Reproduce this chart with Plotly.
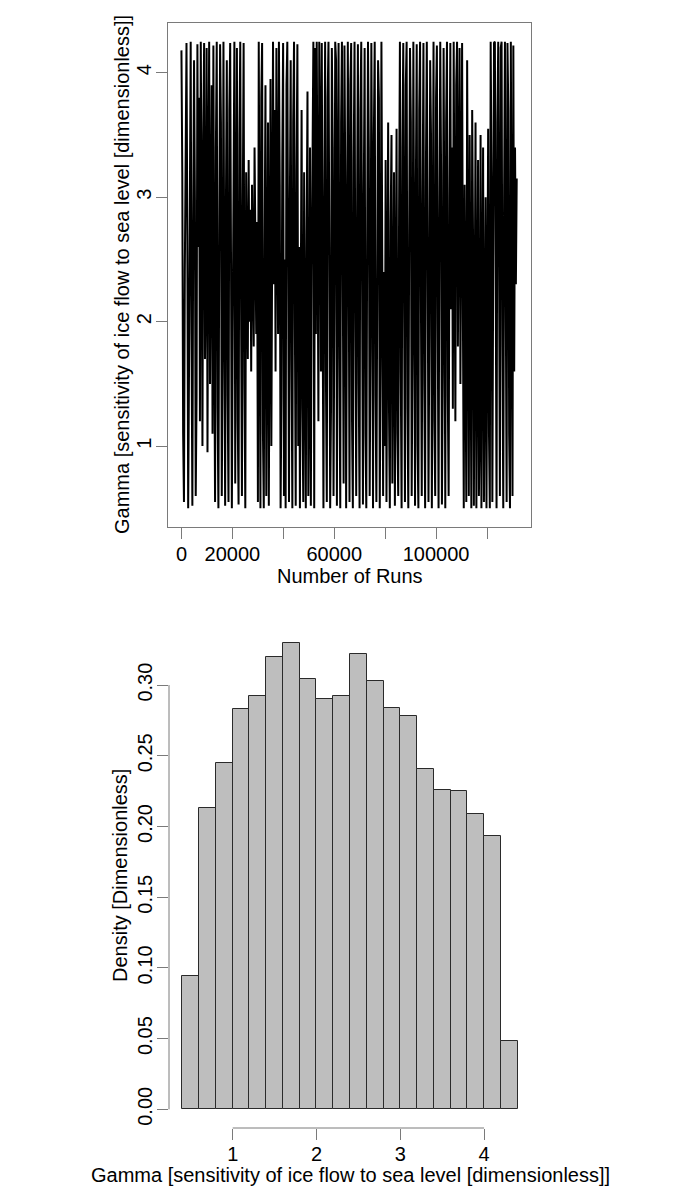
import plotly.graph_objects as go

# ---------------- data ----------------
# MCMC trace of Gamma (thinned samples)
gamma_trace = [
    4.18, 3.2, 1.1, 0.55, 2.4, 3.9, 4.24, 2.7, 0.5, 1.6, 3.3, 4.25, 1.9, 0.52, 2.8, 4.1, 3.0, 0.6, 1.4, 4.23,
    2.6, 3.8, 1.2, 4.25, 2.9, 1.0, 3.5, 4.24, 1.7, 2.3, 4.2, 0.95, 3.1, 4.25, 1.5, 2.8, 3.9, 1.1, 4.22, 2.0,
    0.55, 3.4, 4.25, 1.3, 0.5, 2.7, 4.23, 3.6, 0.6, 1.8, 4.25, 2.2, 0.52, 3.0, 4.1, 1.4, 0.55, 3.7, 4.24, 2.5,
    0.5, 1.9, 3.3, 4.25, 0.7, 2.6, 4.2, 1.2, 0.53, 3.5, 4.25, 2.1, 0.6, 2.9, 4.24, 1.5, 0.5, 3.2,
    2.4, 1.7, 3.3, 2.0, 2.9, 1.6, 3.1, 2.2, 1.8, 3.4, 2.5, 1.9, 2.8,
    0.55, 4.25, 1.3, 0.5, 3.8, 4.24,
    1.1, 0.5, 2.6, 3.9, 0.6, 2.2, 3.6, 0.52, 1.8, 3.95, 1.0, 2.9,
    4.25, 2.3, 3.7, 1.6, 4.2, 2.8, 1.9, 4.25, 3.1,
    0.5, 1.4, 3.3, 4.24, 0.6, 2.5, 0.5, 3.9, 4.25, 1.2, 0.55, 2.9, 4.1, 1.7, 0.5, 3.6, 4.25, 2.0, 0.52, 3.2,
    4.23, 1.0, 2.6,
    0.5, 2.1, 3.7, 1.3, 0.55, 3.2, 1.8, 0.5, 2.7, 3.85, 0.6, 1.5, 3.4, 0.52, 2.4, 3.6,
    4.25, 0.5, 4.2, 1.9, 4.25,
    2.8, 1.2, 4.25, 3.5, 1.6, 4.24,
    2.2, 0.5, 3.0, 4.25, 1.5, 0.55, 3.8, 4.25, 2.6, 0.5, 1.3, 4.2, 3.4, 0.6, 2.1, 4.25, 4.1, 0.52, 2.9, 4.24,
    1.7, 0.5, 3.6, 4.25, 2.4, 0.7, 4.22, 3.1, 0.5, 1.9, 4.25, 2.7, 0.55, 3.9, 4.24, 1.2, 0.5, 3.3, 4.25, 2.0,
    0.6, 2.8, 4.23, 1.5, 0.5, 3.7, 4.25, 2.3, 0.53, 3.0, 4.2, 1.1, 0.5, 2.6, 4.25, 3.4, 0.6, 1.8, 4.24, 2.9,
    0.5, 3.5, 4.25, 1.4, 0.55, 2.2, 4.1, 3.8, 0.5, 1.7, 4.25, 2.5, 0.6,
    2.4, 1.0, 3.3, 0.55, 2.0, 3.6, 1.3, 0.5, 2.8, 3.5, 0.7, 1.9, 3.2, 0.52, 2.5, 3.55, 1.1, 0.6, 2.9,
    4.25, 1.6, 0.5, 3.4, 4.24, 2.1, 0.55, 3.9, 4.25, 1.3, 0.5, 2.7, 4.2, 3.6, 0.6, 1.8, 4.25, 2.4, 0.52, 3.1,
    4.23, 1.0, 0.5, 3.7, 4.25, 2.2, 0.6, 2.9, 4.24, 1.5, 0.5, 3.3, 4.25, 2.6, 0.55, 1.9, 4.1, 3.5, 0.5, 2.3,
    4.25, 1.2, 0.6, 3.8, 4.22, 2.0, 0.5, 2.8, 4.25, 3.2, 0.53, 1.6, 4.2, 2.5, 0.5, 3.6, 4.25, 1.4, 0.6, 3.0,
    4.24, 2.1,
    3.4, 1.3, 4.25, 2.6, 1.2, 3.9, 4.25, 1.8, 2.9, 4.2, 1.5, 3.3, 4.24,
    2.0, 0.5, 3.1, 1.4, 0.55, 4.1, 2.3, 0.6, 3.5, 1.0, 0.5, 3.7, 2.7, 0.52, 1.6, 3.6, 0.5, 2.4, 3.3, 0.6,
    1.2, 3.5, 0.5, 2.1, 3.4, 0.55, 1.8, 3.0, 0.5, 2.6, 3.55, 1.1,
    0.5, 4.25, 3.2, 0.55, 2.0, 4.24, 4.25, 1.4, 0.5, 3.6, 4.25, 2.5, 0.6, 4.2, 4.25, 1.8, 0.5, 3.0, 4.25, 2.2,
    0.55, 4.24, 3.7, 1.1, 0.5, 4.25, 2.8, 0.6, 4.22, 1.6, 3.4, 2.3, 3.15,
]
runs_per_sample = 330  # thinning interval between stored samples
total_runs = 132000

trace_xticks = [0, 20000, 40000, 60000, 80000, 100000, 120000]
trace_xticklabels = ["0", "20000", "", "60000", "", "100000", ""]
trace_yticks = [1, 2, 3, 4]

# histogram of Gamma (density per bin)
bin_edges = [0.4, 0.6, 0.8, 1.0, 1.2, 1.4, 1.6, 1.8, 2.0, 2.2, 2.4,
             2.6, 2.8, 3.0, 3.2, 3.4, 3.6, 3.8, 4.0, 4.2, 4.4]
density = [0.094, 0.213, 0.245, 0.283, 0.292, 0.320, 0.330, 0.304, 0.290, 0.292,
           0.322, 0.303, 0.284, 0.278, 0.241, 0.226, 0.225, 0.209, 0.193, 0.048]
hist_xticks = [1, 2, 3, 4]
hist_yticks = [0.00, 0.05, 0.10, 0.15, 0.20, 0.25, 0.30]
hist_yticklabels = ["0.00", "0.05", "0.10", "0.15", "0.20", "0.25", "0.30"]

xtitle_top = "Number of Runs"
ytitle_top = "Gamma [sensitivity of ice flow to sea level [dimensionless]]"
xtitle_bot = "Gamma [sensitivity of ice flow to sea level [dimensionless]]"
ytitle_bot = "Density [Dimensionless]"

# ---------------- figure ----------------
W, H = 700, 1200
FONT = "Liberation Sans, Arial, Helvetica, sans-serif"
FS = 20
AXC = "#7a7a7a"

def px_x(p):
    return p / W

def px_y(p):
    return 1 - p / H

runs = [i * runs_per_sample for i in range(len(gamma_trace))]
centers = [(bin_edges[i] + bin_edges[i + 1]) / 2 for i in range(len(density))]
widths = [bin_edges[i + 1] - bin_edges[i] for i in range(len(density))]

fig = go.Figure()
fig.add_trace(go.Scatter(x=runs, y=gamma_trace, mode="lines",
                         line=dict(color="black", width=2),
                         xaxis="x", yaxis="y", showlegend=False, hoverinfo="skip"))
fig.add_trace(go.Bar(x=centers, y=density, width=widths,
                     marker=dict(color="#bebebe", line=dict(color="#2a2a2a", width=1)),
                     xaxis="x2", yaxis="y2", showlegend=False))

# R-style 4% padding
tx0, tx1 = 0, total_runs
tpad = 0.04 * (tx1 - tx0)
ty0, ty1 = min(gamma_trace), max(gamma_trace)
typad = 0.04 * (ty1 - ty0)
hx0, hx1 = bin_edges[0], bin_edges[-1]
hxpad = 0.04 * (hx1 - hx0)
hy1 = max(density)
hypad = 0.04 * hy1

tickfont = dict(family=FONT, size=FS, color="black")

fig.update_layout(
    width=W, height=H,
    margin=dict(l=0, r=0, t=0, b=0),
    paper_bgcolor="white", plot_bgcolor="white",
    font=dict(family=FONT, size=FS, color="black"),
    bargap=0,
    xaxis=dict(domain=[px_x(168), px_x(531)], anchor="y",
               range=[tx0 - tpad, tx1 + tpad],
               showline=True, mirror=True, linecolor=AXC, linewidth=1,
               ticks="outside", ticklen=11, tickcolor=AXC, tickwidth=1,
               tickvals=trace_xticks, ticktext=trace_xticklabels,
               tickfont=tickfont, showgrid=False, zeroline=False,
               ticklabelstandoff=-2),
    yaxis=dict(domain=[px_y(527), px_y(23)], anchor="x",
               range=[ty0 - typad, ty1 + typad],
               showline=True, mirror=True, linecolor=AXC, linewidth=1,
               ticks="outside", ticklen=11, tickcolor=AXC, tickwidth=1,
               tickvals=trace_yticks, tickangle=-90,
               tickfont=tickfont, showgrid=False, zeroline=False,
               ticklabelstandoff=-3),
    xaxis2=dict(domain=[px_x(169), px_x(531)], anchor="y2",
                range=[hx0 - hxpad, hx1 + hxpad],
                showline=False, ticks="outside", ticklen=11, tickcolor=AXC, tickwidth=1,
                tickvals=hist_xticks, tickfont=tickfont,
                showgrid=False, zeroline=False, ticklabelstandoff=-3),
    yaxis2=dict(domain=[px_y(1128), px_y(624)], anchor="x2",
                range=[-hypad, hy1 + hypad],
                showline=False, ticks="outside", ticklen=11, tickcolor=AXC, tickwidth=1,
                tickvals=hist_yticks, ticktext=hist_yticklabels, tickangle=-90,
                tickfont=tickfont, showgrid=False, zeroline=False,
                ticklabelstandoff=-3),
    shapes=[
        dict(type="line", xref="x2 domain", yref="y2", x0=0, x1=0,
             y0=hist_yticks[0], y1=hist_yticks[-1], line=dict(color=AXC, width=1)),
        dict(type="line", xref="x2", yref="y2 domain", x0=hist_xticks[0], x1=hist_xticks[-1],
             y0=0, y1=0, line=dict(color=AXC, width=1)),
    ],
    annotations=[
        dict(text=xtitle_top, x=px_x(350), y=px_y(576), xref="paper", yref="paper",
             showarrow=False, xanchor="center", yanchor="middle", font=dict(size=FS)),
        dict(text=ytitle_top, x=px_x(122), y=px_y(275), xref="paper", yref="paper",
             showarrow=False, xanchor="center", yanchor="middle", textangle=-90, font=dict(size=FS)),
        dict(text=xtitle_bot, x=px_x(350), y=px_y(1175), xref="paper", yref="paper",
             showarrow=False, xanchor="center", yanchor="middle", font=dict(size=FS)),
        dict(text=ytitle_bot, x=px_x(120), y=px_y(876), xref="paper", yref="paper",
             showarrow=False, xanchor="center", yanchor="middle", textangle=-90, font=dict(size=FS)),
    ],
)

fig.write_html("out.html", config={"displayModeBar": False},
               post_script="document.body.style.margin='0px';document.body.style.padding='0px';")
